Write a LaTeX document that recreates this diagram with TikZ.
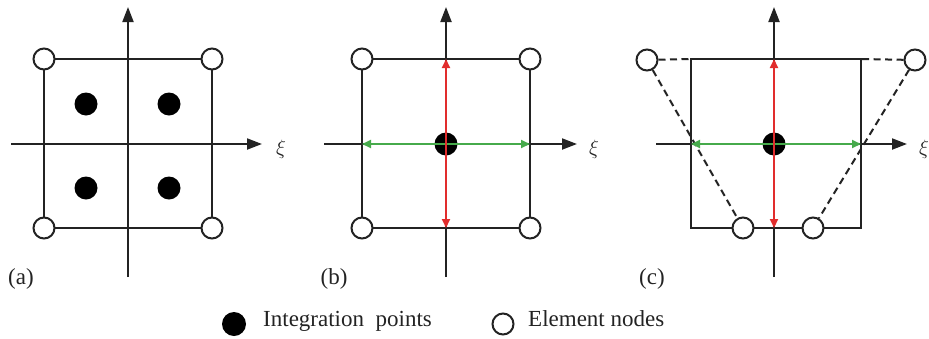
\documentclass[tikz,border=0pt]{standalone}
\usepackage{fontspec}
\setmainfont{Liberation Serif}
\usetikzlibrary{arrows.meta}
\definecolor{ink}{RGB}{35,35,35}
\definecolor{redc}{RGB}{225,45,45}
\definecolor{greenc}{RGB}{70,170,75}
\begin{document}
\begin{tikzpicture}[x=1pt,y=-1pt,
  ln/.style={line width=2pt, draw=ink},
  axis/.style={ln, -{Triangle[length=15pt,width=11pt]}},
  dashln/.style={ln, dash pattern=on 7pt off 4.5pt},
  enode/.style={circle, draw=ink, line width=2pt, fill=white, minimum size=21pt, inner sep=0pt},
  ipt/.style={circle, fill=black, minimum size=23pt, inner sep=0pt},
  lab/.style={font=\fontsize{23}{25}\selectfont, text=ink, inner sep=0pt},
  xilab/.style={font=\fontsize{21}{23}\selectfont, text=ink, inner sep=0pt},
  redarr/.style={line width=2pt, draw=redc, {Triangle[length=9pt,width=8pt]}-{Triangle[length=9pt,width=8pt]}},
  greenarr/.style={line width=2pt, draw=greenc, {Triangle[length=9pt,width=8pt]}-{Triangle[length=9pt,width=8pt]}}
]
\useasboundingbox (0,0) rectangle (929,338);

% ---------- panel (a) ----------
\coordinate (a-yb) at (128,277);
\coordinate (a-yt) at (128,7);
\coordinate (a-xl) at (11,144);
\coordinate (a-xr) at (262,144);
\draw[axis] (a-yb) -- (a-yt);
\draw[axis] (a-xl) -- (a-xr);
\coordinate (a-c1) at (44,59);
\coordinate (a-c2) at (212,59);
\coordinate (a-c3) at (212,228);
\coordinate (a-c4) at (44,228);
\draw[ln] (a-c1) -- (a-c2) -- (a-c3) -- (a-c4) -- cycle;
\node[enode] (a-n1) at (a-c1) {};
\node[enode] (a-n2) at (a-c2) {};
\node[enode] (a-n3) at (a-c3) {};
\node[enode] (a-n4) at (a-c4) {};
\node[ipt] (a-p1) at (86,104) {};
\node[ipt] (a-p2) at (169,104) {};
\node[ipt] (a-p3) at (86,188) {};
\node[ipt] (a-p4) at (169,188) {};
\node[xilab] (a-xi) at (281,149) {$\xi$};
\node[lab] (a-lab) at (21,279) {(a)};

% ---------- panel (b) ----------
\coordinate (b-yb) at (446,277);
\coordinate (b-yt) at (446,7);
\coordinate (b-xl) at (324,144);
\coordinate (b-xr) at (577,144);
\draw[axis] (b-yb) -- (b-yt);
\draw[axis] (b-xl) -- (b-xr);
\coordinate (b-c1) at (362,59);
\coordinate (b-c2) at (530,59);
\coordinate (b-c3) at (530,228);
\coordinate (b-c4) at (362,228);
\draw[ln] (b-c1) -- (b-c2) -- (b-c3) -- (b-c4) -- cycle;
\node[enode] (b-n1) at (b-c1) {};
\node[enode] (b-n2) at (b-c2) {};
\node[enode] (b-n3) at (b-c3) {};
\node[enode] (b-n4) at (b-c4) {};
\node[ipt] (b-p) at (446,144) {};
\coordinate (b-gl) at (362,144);
\coordinate (b-gr) at (530,144);
\coordinate (b-rt) at (446,59);
\coordinate (b-rb) at (446,228);
\draw[greenarr] (b-gl) -- (b-gr);
\draw[redarr] (b-rt) -- (b-rb);
\node[xilab] (b-xi) at (594,149) {$\xi$};
\node[lab] (b-lab) at (334,279) {(b)};

% ---------- panel (c) ----------
\coordinate (c-yb) at (774,277);
\coordinate (c-yt) at (774,7);
\coordinate (c-xl) at (656,144);
\coordinate (c-xr) at (907,144);
\draw[axis] (c-yb) -- (c-yt);
\draw[axis] (c-xl) -- (c-xr);
\coordinate (c-c1) at (691,59);
\coordinate (c-c2) at (861,59);
\coordinate (c-c3) at (861,228);
\coordinate (c-c4) at (691,228);
\draw[ln] (c-c1) -- (c-c2) -- (c-c3) -- (c-c4) -- cycle;
\node[enode] (c-n1) at (647,60) {};
\node[enode] (c-n2) at (915,60) {};
\node[enode] (c-n3) at (743,228) {};
\node[enode] (c-n4) at (813,228) {};
\draw[dashln] (c-n1) -- (c-c1);
\draw[dashln] (c-n2) -- (c-c2);
\draw[dashln] (c-n1) -- (c-n3);
\draw[dashln] (c-n2) -- (c-n4);
\node[ipt] (c-p) at (774,144) {};
\coordinate (c-gl) at (691,144);
\coordinate (c-gr) at (861,144);
\coordinate (c-rt) at (774,59);
\coordinate (c-rb) at (774,228);
\draw[greenarr] (c-gl) -- (c-gr);
\draw[redarr] (c-rt) -- (c-rb);
\node[xilab] (c-xi) at (924,149) {$\xi$};
\node[lab] (c-lab) at (652,279) {(c)};

% ---------- legend ----------
\node[ipt, minimum size=24pt] (l-p) at (234,324) {};
\node[lab, anchor=base west] (l-pt) at (263,326) {Integration~~points};
\node[enode] (l-n) at (503,324) {};
\node[lab, anchor=base west] (l-nt) at (528,326) {Element nodes};
\end{tikzpicture}
\end{document}
